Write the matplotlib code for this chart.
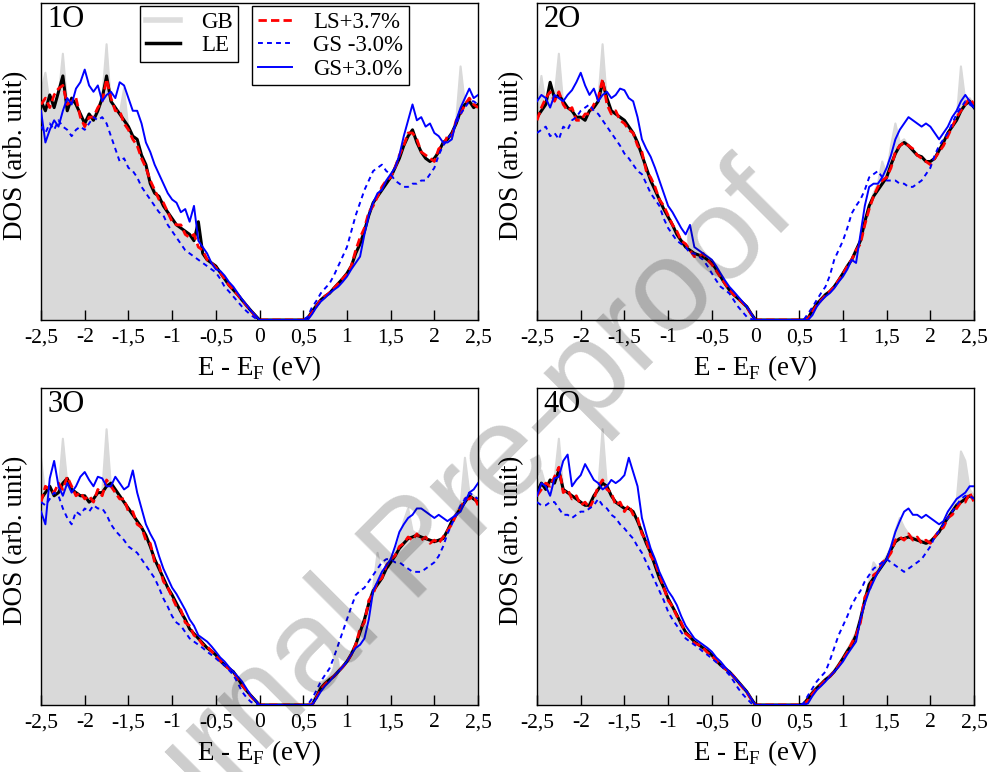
import numpy as np
import matplotlib
matplotlib.use("Agg")
import matplotlib.pyplot as plt
from matplotlib.lines import Line2D

# -----------------------------
# DATA (DOS in % of panel height, energy grid of 0.05 eV)
# -----------------------------
E = np.round(np.arange(101) * 0.05 - 2.5, 2)

xticks = [-2.5, -2, -1.5, -1, -0.5, 0, 0.5, 1, 1.5, 2, 2.5]
xticklabels = ["-2,5", "-2", "-1,5", "-1", "-0,5", "0", "0,5", "1", "1,5", "2", "2,5"]

panel_names = ["1O", "2O", "3O", "4O"]
series_labels = ["GB", "LE", "LS+3.7%", "GS -3.0%", "GS+3.0%"]

zeros10 = [0] * 10

gb_1O = ([72, 78, 68, 68, 70, 84, 68, 68, 67, 64,
          63, 64, 64, 67, 70, 87, 68, 66, 65, 73,
          60, 57, 55, 51, 48, 44, 41, 38, 36, 33,
          31, 29, 28, 27, 26, 24, 22, 21, 19, 18,
          16.5, 15, 13, 11, 9.5, 8, 6.3, 4.6, 3, 1.5]
         + zeros10 +
         [0, 1, 3, 5, 6.5, 7.5, 8.6, 10, 11.5, 13,
          14.7, 17, 21, 25, 29, 33, 36, 39, 42, 44,
          45, 48, 52, 55, 59, 58, 56, 53, 51, 50,
          50, 53, 55, 57, 59, 63, 80, 68, 70, 68, 67])
le_1O = ([69, 66, 71, 67, 72, 77, 66, 70, 68, 65,
          62, 65, 63, 66, 70, 77, 69, 67, 65, 63,
          61, 58, 57, 52, 49, 43, 40, 39, 36, 34,
          32, 30, 29, 28, 27, 25, 31, 21, 19, 18,
          17, 15, 13, 11, 9.5, 8, 6.3, 4.6, 3, 1.5]
         + zeros10 +
         [0, 0.5, 2.6, 4.5, 6.3, 7.5, 8.4, 10, 11.5, 13,
          14.7, 17, 21, 24, 28, 33, 37, 39, 41, 43,
          45, 48, 51, 55, 58, 60, 56, 53, 51, 50,
          51, 53, 56, 57, 59, 62, 66, 68, 69, 67, 68])
ls_1O = ([68, 70, 67, 71, 73, 74, 68, 69, 70, 64,
          61, 64, 64, 67, 69, 76, 70, 66, 66, 62,
          60, 57, 55, 51, 48, 44, 41, 38, 37, 34,
          31, 30, 30, 27, 26, 27, 23, 22, 19, 18,
          16.5, 15, 13, 11, 9.5, 8, 6.3, 4.6, 3, 1.2]
         + zeros10 +
         [0, 0.3, 2.3, 4.3, 6.3, 7.5, 8.6, 10, 11.5, 13,
          14.5, 17, 22, 26, 29, 34, 36, 39, 42, 44,
          45, 48, 52, 55, 59, 59, 57, 53, 52, 51,
          50, 54, 55, 58, 58, 63, 65, 68, 70, 68, 67])
gsm_1O = ([61, 59, 62, 60, 63, 61, 60, 58, 60, 61,
           60, 62, 64, 63, 64, 62, 58, 54, 50, 51,
           48, 47, 45, 42, 40, 38, 36, 34, 33, 30,
           28, 26, 24, 22, 21, 20, 19, 18, 17, 16,
           15, 13, 10.5, 9, 7.4, 5.8, 4.2, 2.8, 1.6, 0.6]
          + zeros10 +
          [0, 1, 4, 6, 8.4, 10, 11.5, 14, 17, 20,
           23, 28, 33, 37, 41, 44, 47, 48, 49, 47,
           46, 44, 43, 42, 42, 43, 43, 44, 44, 46,
           48, 52, 55, 57, 59, 62, 65, 67, 69, 69, 68])
gsp_1O = ([66, 56, 60, 63, 61, 66, 70, 68, 73, 75,
           79, 74, 72, 74, 69, 71, 72, 70, 75, 74,
           70, 66, 66, 62, 56, 53, 49, 46, 43, 40,
           38, 37, 34, 35, 31, 36, 25, 23, 21, 18,
           16, 15.5, 14, 12, 10.5, 8.5, 6.5, 4.8, 3, 1.5]
          + zeros10 +
          [0, 0, 1.8, 4, 5.8, 7, 8.4, 9.5, 10.5, 12,
           13.7, 16, 18, 20, 27, 33, 37, 40, 41, 44,
           46, 48, 52, 58, 63, 68, 63, 64, 61, 62,
           59, 58, 56, 56, 57, 63, 67, 70, 73, 70, 71])

gb_2O = ([66, 77, 68, 72, 70, 84, 68, 66, 66, 64,
          63, 64, 66, 67, 69, 87, 69, 66, 65, 64,
          62, 60, 58, 55, 52, 47, 44, 41, 38, 35,
          32, 30, 27, 25, 23, 22, 21, 20.5, 20, 19,
          18, 16, 13.7, 11.5, 9.5, 8, 6.8, 5.5, 4.2, 2]
         + zeros10 +
         [0, 0, 1, 3.5, 5.5, 6.8, 8.2, 9.2, 10.8, 12.8,
          15, 17, 19, 22, 25, 31, 36, 40, 43, 50,
          46, 55, 62, 56, 57, 55, 53, 52, 51, 50,
          50, 51, 53, 56, 59, 61, 63, 80, 69, 70, 68])
le_2O = ([64, 66, 68, 75, 70, 71, 69, 67, 66, 64,
          64, 63, 66, 67, 69, 75, 70, 66, 65, 64,
          63, 61, 59, 56, 52, 48, 44, 41, 38, 35,
          32.5, 30, 27, 25, 23, 22, 21, 20.5, 20, 19,
          18, 16, 13.7, 11.5, 9.5, 8, 6.8, 5.5, 4.2, 2]
         + zeros10 +
         [0, 0, 0.5, 3, 5, 6.5, 8, 9, 10.5, 12.5,
          14.7, 17, 19, 22, 25, 31, 36, 39, 41, 43,
          45, 49, 52.5, 55, 56, 55, 53.5, 52, 51.5, 50,
          50, 51, 53.5, 56, 59, 61, 63, 66, 68, 69, 67])
ls_2O = ([63, 67, 70, 72, 69, 72, 68, 66, 67, 63,
          63, 65, 65, 68, 70, 76, 68, 65, 66, 63,
          62, 60, 59, 55, 53, 47, 45, 42, 38, 36,
          33, 30, 28, 25, 24, 22, 20, 20, 21, 19,
          17.5, 15.5, 13.5, 11.5, 9.5, 8, 6.8, 5.5, 4, 1.8]
         + zeros10 +
         [0, 0, 0.3, 2.6, 4.6, 6.2, 7.8, 9, 10.5, 12.5,
          14.5, 17, 19, 22, 24, 30, 35, 39, 42, 44,
          45, 48, 53, 55, 56, 55, 54, 52, 51, 50,
          49, 51, 53, 55, 58, 61, 64, 66, 68, 70, 68])
gsm_2O = ([59, 60, 61, 58, 59, 57, 61, 60, 63, 64,
           66, 67, 68, 66, 65, 63, 61, 59, 57, 55,
           52.5, 51, 49, 47, 46, 43, 40, 38, 36, 32,
           29, 27, 25, 24, 23, 21, 21, 20, 19, 17,
           14.7, 12.5, 10.5, 9.5, 8.4, 6.3, 4.2, 2.6, 1, 0.3]
          + zeros10 +
          [0, 0, 2, 4, 6.3, 8.5, 10.5, 14, 19, 22,
           25, 29, 33.6, 36, 38, 41, 45, 46, 47, 45,
           44, 44, 44, 43, 43, 42, 42, 43, 44, 46,
           48, 52, 55, 57, 59, 62, 65, 67, 69, 68, 67])
gsp_2O = ([69, 71, 70, 67, 71, 70, 69, 71, 72.5, 75,
           78, 74, 71, 73, 69, 71, 72, 70, 71, 73,
           72.5, 70, 69, 64, 57, 54, 51.5, 48, 44, 40,
           36, 34, 31.5, 29, 27, 30, 23, 22, 21, 20,
           19, 17, 14.7, 12.5, 10.5, 9, 7.4, 5.8, 4.2, 2]
          + zeros10 +
          [0, 0, 0, 1.5, 4.2, 6, 7.4, 8.5, 10, 12,
           13.7, 16, 19, 18, 27, 36, 42, 43, 43, 45,
           48, 52, 57, 60, 62, 64, 63, 62, 61, 62,
           61, 59, 57, 59, 61, 64, 66, 69, 71, 69, 67])

gb_3O = ([78, 66, 69, 67, 67, 84, 70, 68, 67, 66,
          66, 65, 65, 67, 67, 87, 69, 68, 66, 64,
          62, 60, 58, 56, 53, 50, 46, 43, 40, 37,
          34.5, 32, 29.4, 27, 24, 22.5, 21, 19.5, 18, 17,
          15.8, 14, 12.6, 11.5, 10.5, 8.5, 6.3, 4.6, 3, 1.5]
         + zeros10 +
         [0, 0, 1, 3.5, 6, 7.5, 8.5, 9.5, 11, 12.5,
          14, 16.5, 19.5, 23, 27, 33, 37, 48, 41, 44,
          46, 48, 52, 58, 62, 55, 54, 53, 52.5, 52,
          52, 52, 53, 55, 58, 61, 63, 78, 67, 66, 65])
le_3O = ([65, 67, 69, 66, 67, 70, 71.5, 68, 67, 66,
          66, 64, 65, 67, 67, 69, 70, 68, 66, 64,
          62, 60, 58, 56, 53.5, 50, 46, 43, 40, 37,
          34.7, 32, 29.4, 27, 24, 22.5, 21, 19.5, 18, 17,
          15.8, 14, 12.6, 11.5, 10.5, 8.5, 6.3, 4.6, 3, 1.5]
         + zeros10 +
         [0, 0, 0, 2.5, 5.3, 6.8, 8, 9, 10.5, 12,
          13.7, 16, 19, 23, 27, 32, 36, 38, 40, 43,
          45, 47, 49.4, 51, 52.5, 53, 53.6, 53, 52.5, 52,
          51.5, 52, 52.5, 55, 58, 60, 62, 64, 66, 65, 64])
ls_3O = ([64, 69, 68, 67, 70, 68, 72, 69, 66, 67,
          65, 66, 64, 68, 66, 71, 69, 67, 65, 65,
          61, 61, 57, 56, 52, 51, 45, 44, 39, 37,
          34, 31, 30, 26, 25, 22, 21, 19, 18.5, 17,
          15.5, 14, 12.6, 11.5, 10.5, 8.5, 6.3, 4.6, 2.8, 1.3]
         + zeros10 +
         [0, 0, 0, 2.2, 5, 6.6, 8, 9, 10.5, 12,
          13.5, 16, 19, 24, 26, 33, 35, 39, 40, 44,
          46, 47, 50, 51, 53, 52, 54, 52, 53, 51,
          52, 51, 53, 55, 57, 60, 62, 65, 65, 66, 63])
gsm_3O = ([64, 63, 65, 67, 66, 62, 59, 57, 61, 60,
           62, 61, 63, 62, 62, 60, 57, 55, 53.5, 52,
           50, 49, 48, 46, 44, 42, 40, 37, 33.6, 31,
           28, 26, 25, 23, 21, 20, 19, 18, 16.8, 15.8,
           14.7, 13.5, 12.6, 11, 9.5, 7, 4.2, 2.4, 1, 0.3]
          + zeros10 +
          [0, 0, 2, 4.5, 7.4, 9.5, 11.5, 15, 19, 23,
           27, 31, 34.7, 36, 37, 39, 41, 43, 45, 46,
           46, 45, 45, 44, 43, 42, 42, 42, 43, 44,
           45, 47, 50, 54, 57, 60, 63, 65, 67, 66, 65])
gsp_3O = ([61, 57, 71.5, 77, 69, 66, 70, 67, 69, 72,
           73.5, 71, 69, 72, 71.5, 69, 69, 72, 70, 68,
           69, 74, 67, 62, 57, 54, 51.5, 47, 43, 40,
           37, 35, 32.5, 30, 27, 25, 22, 21, 20, 18.5,
           16.8, 15, 13.7, 12, 10.5, 9, 7.4, 5.2, 3, 1.5]
          + zeros10 +
          [0, 0, 0, 2, 4.2, 6, 7.4, 9, 10.5, 12,
           13.7, 16, 18, 19, 21, 27, 36, 39, 42, 44,
           46, 50, 54.6, 57, 59, 60, 62, 62, 61, 60,
           59, 60, 59, 58, 59, 60, 61, 64, 67, 68, 70])

gb_4O = ([68, 74, 69, 70, 71, 84, 68, 67, 66, 65,
          64, 63, 64, 66, 68, 87, 69, 66, 64, 63,
          62, 62, 60, 57, 54, 51, 47, 44, 40, 37,
          33, 31, 28, 25.5, 23, 21.5, 20, 19, 18, 17,
          15.8, 14, 12.6, 11.5, 10.5, 9, 7.4, 5.8, 4.2, 2]
         + zeros10 +
         [0, 0.5, 2.5, 4.3, 5.8, 7, 8.4, 9.6, 11, 13,
          15, 17.5, 20, 23, 28, 34, 39, 45, 43, 45,
          47, 50, 55, 59, 56, 54, 53, 52.5, 52, 51.5,
          52, 53, 55, 57, 59, 62, 64, 80, 77, 68, 66])
le_4O = ([67, 70, 68, 71, 70, 74, 68, 67, 66, 65,
          64, 63, 63, 66, 68, 70, 69, 66, 64, 63,
          62, 62, 61, 58, 54.6, 51, 48, 44, 40, 37,
          33.6, 31, 28.4, 25.5, 23, 21.5, 20, 19, 18, 17,
          15.8, 14, 12.6, 11.5, 10.5, 9, 7.4, 5.8, 4.2, 2]
         + zeros10 +
         [0, 0.3, 2, 3.8, 5.3, 6.6, 8, 9, 10.5, 12.5,
          14.7, 17, 19, 22, 27, 33, 38, 40, 42, 44,
          46, 49, 51.5, 52.5, 52.5, 53, 52.5, 52, 51.5, 51,
          51.5, 53, 54.6, 57, 59, 61, 63, 64, 65, 66, 65])
ls_4O = ([66, 68, 70, 69, 72, 75, 67, 68, 65, 66,
          63, 64, 62, 65, 69, 71, 68, 67, 63, 64,
          61, 63, 60, 59, 54, 52, 47, 45, 41, 37,
          33, 31, 28, 26, 22.5, 21.5, 19.5, 19, 18, 16.5,
          15.5, 14, 12.6, 11.5, 10.5, 9, 7.2, 5.6, 4, 1.8]
         + zeros10 +
         [0, 0, 1.5, 3.5, 5.1, 6.4, 7.8, 9, 10.5, 12.3,
          14.5, 16.5, 19.5, 22, 26, 34, 36, 41, 42, 45,
          46, 48, 52, 53, 52, 54, 52, 53, 51, 52,
          51, 53, 55, 56, 59, 60, 62, 64, 64, 67, 64])
gsm_4O = ([64, 63, 63, 64, 64, 62, 60, 60, 59, 60,
           61, 61, 62, 63, 65, 63, 62, 60, 59, 57,
           55.7, 54, 52.5, 50, 48, 45, 42, 39, 36, 33,
           29.4, 27, 25, 23, 21, 20, 19, 18, 16.8, 15.8,
           14.7, 13.5, 12.6, 11, 9.5, 7.5, 5.3, 3.5, 2, 0.6]
          + zeros10 +
          [0, 0.5, 3, 5.2, 7.4, 9, 10.5, 14, 18, 22,
           25, 28, 31.5, 34, 36, 39, 41, 43, 44, 45,
           46, 45, 44, 43, 42, 43, 44, 45, 46, 48,
           50, 53, 55, 57, 59, 61, 63, 65, 66, 66, 65])
gsp_4O = ([66, 70, 69, 66, 71.5, 72, 77, 79, 69, 71,
           72.5, 76, 73.5, 71, 70, 68, 69, 71, 70, 71,
           72.5, 78, 73.5, 69, 59, 54, 49.4, 46, 42, 39,
           36, 34, 31.5, 28, 25, 23, 21, 20, 19, 18,
           16.8, 15, 13.7, 12, 10.5, 9, 7.4, 5.8, 4.2, 2]
          + zeros10 +
          [0, 0, 0.5, 2.8, 4.7, 6, 7.4, 9, 10.5, 12,
           13.7, 16, 18, 20, 27, 32, 36, 39, 42, 44,
           46, 50, 54.6, 58, 61, 62, 60, 60, 59, 60,
           59, 58, 57, 58, 61, 63, 65, 66, 67, 69, 69])

panels = [
    (gb_1O, le_1O, ls_1O, gsm_1O, gsp_1O),
    (gb_2O, le_2O, ls_2O, gsm_2O, gsp_2O),
    (gb_3O, le_3O, ls_3O, gsm_3O, gsp_3O),
    (gb_4O, le_4O, ls_4O, gsm_4O, gsp_4O),
]

# -----------------------------
# STYLE
# -----------------------------
plt.rcParams['font.family'] = ['Liberation Serif', 'DejaVu Serif']
plt.rcParams['mathtext.fontset'] = 'custom'
plt.rcParams['mathtext.rm'] = 'Liberation Serif'
plt.rcParams['lines.scale_dashes'] = False

grey = '#d9d9d9'

fig = plt.figure(figsize=(9.91, 7.72), dpi=100)

# axes boxes in figure fraction (left, bottom, width, height)
boxes = [
    (0.0414, 0.5855, 0.4410, 0.4106),
    (0.5419, 0.5855, 0.4410, 0.4106),
    (0.0414, 0.0868, 0.4410, 0.4106),
    (0.5419, 0.0868, 0.4410, 0.4106),
]

for name, box, (gb, le, ls, gsm, gsp) in zip(panel_names, boxes, panels):
    ax = fig.add_axes(box)
    ax.fill_between(E, 0, gb, color=grey, lw=0, zorder=1)
    ax.plot(E, gb, color=grey, lw=1.5, zorder=1)
    ax.plot(E, le, color='black', lw=2.2, zorder=2)
    ax.plot(E, ls, color='red', lw=2.0, dashes=(6, 3), zorder=3)
    ax.plot(E, gsm, color='blue', lw=1.4, dashes=(3.5, 3), zorder=4)
    ax.plot(E, gsp, color='blue', lw=1.4, zorder=5)

    ax.set_xlim(-2.5, 2.5)
    ax.set_ylim(0, 100)
    ax.set_xticks(xticks)
    ax.set_xticklabels(xticklabels)
    ax.set_yticks([])
    ax.tick_params(axis='x', direction='in', length=7, width=1,
                   labelsize=15.5, pad=6)
    for sp in ax.spines.values():
        sp.set_linewidth(1.0)

    ax.set_xlabel(r"E - E$_\mathregular{F}$ (eV)", fontsize=19.5)
    ax.xaxis.set_label_coords(0.5, -0.105)
    ax.set_ylabel("DOS (arb. unit)", fontsize=19.5)
    ax.yaxis.set_label_coords(-0.03, 0.52)
    ax.text(0.014, 0.995, name, transform=ax.transAxes, ha='left', va='top',
            fontsize=22, zorder=10)

    if name == "1O":
        h1 = [Line2D([], [], color='#dddddd', lw=4),
              Line2D([], [], color='black', lw=2.5)]
        leg1 = ax.legend(h1, series_labels[:2], loc='upper left',
                         bbox_to_anchor=(0.227, 0.99), fontsize=16.5,
                         frameon=True, fancybox=False, edgecolor='black',
                         framealpha=1, borderpad=0.25, labelspacing=0.1,
                         handlelength=1.5, handletextpad=0.9,
                         borderaxespad=0)
        leg1.get_frame().set_linewidth(1.0)
        ax.add_artist(leg1)
        h2 = [Line2D([], [], color='red', lw=2.0, dashes=(6, 3)),
              Line2D([], [], color='blue', lw=1.4, dashes=(3.5, 3)),
              Line2D([], [], color='blue', lw=1.4)]
        leg2 = ax.legend(h2, series_labels[2:], loc='upper left',
                         bbox_to_anchor=(0.483, 0.99), fontsize=16.5,
                         frameon=True, fancybox=False, edgecolor='black',
                         framealpha=1, borderpad=0.25, labelspacing=0.1,
                         handlelength=1.5, handletextpad=0.9,
                         borderaxespad=0)
        leg2.get_frame().set_linewidth(1.0)

# watermark
fig.text(0.419, 0.285, "Journal Pre-proof", rotation=45, rotation_mode='anchor',
         ha='center', va='center', fontsize=95, family='Liberation Sans',
         color='black', alpha=0.2, zorder=100)

fig.savefig("out.png", dpi=100)
